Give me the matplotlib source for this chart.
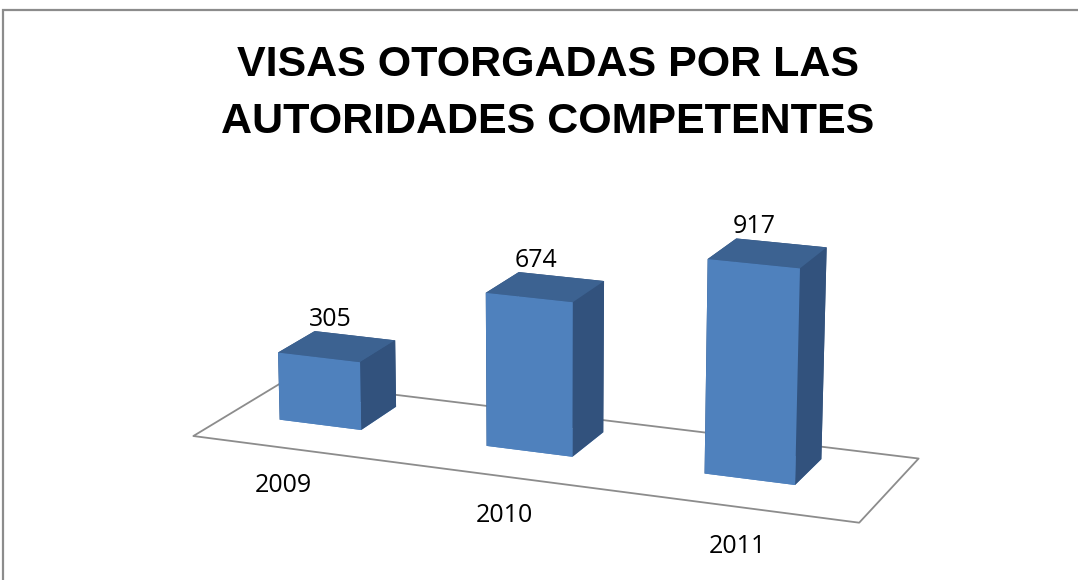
import numpy as np
import matplotlib.pyplot as plt
from matplotlib.patches import Rectangle
from mpl_toolkits.mplot3d.art3d import Poly3DCollection

# data
years = ['2009', '2010', '2011']
visas = [305, 674, 917]
title_lines = ['VISAS OTORGADAS POR LAS', 'AUTORIDADES COMPETENTES']

front_col = '#4f81bd'
side_col = '#32527d'
top_col = '#3c6291'

fig = plt.figure(figsize=(10.78, 5.8), dpi=100)

# chart frame (only top/left visible in the reference)
fig.patches.append(Rectangle((3 / 1078, -0.1), 1.2, 1.1 - 10 / 580,
                             transform=fig.transFigure, fill=False,
                             edgecolor='#8c8c8c', lw=1.6))

for line, yb in zip(title_lines, [0.869, 0.771]):
    fig.text(0.508, yb, line, ha='center', va='baseline', fontsize=31,
             fontweight='bold', family='Liberation Sans')

# big square 3d axes, perspective depends on zoom so keep zoom low
ax = fig.add_axes([-0.0065, -0.436, 1.0, 1.7], projection='3d', computed_zorder=False)
ax.set_proj_type('persp', focal_length=0.6)
ax.view_init(elev=16, azim=-68)
ax.set_xticks([])
ax.set_yticks([])
ax.set_zticks([])
ax.set_axis_off()
for axis in (ax.xaxis, ax.yaxis, ax.zaxis):
    axis.label.set_visible(False)
    axis.offsetText.set_visible(False)

n = len(visas)
dy = 0.52
xs = np.arange(n) + 0.3

# floor (plot area)
fx0, fx1, fy0, fy1 = 0.05, n + 0.08, -0.25, 1.0
floor = Poly3DCollection([[(fx0, fy0, 0), (fx1, fy0, 0), (fx1, fy1, 0), (fx0, fy1, 0)]],
                         facecolor='white', edgecolor='#8c8c8c', lw=1.3, zorder=1)
ax.add_collection3d(floor)
floor.set_clip_on(False)

# face order in bar3d: -z, +z, -y, +y, -x, +x
colors = []
for _ in visas:
    colors += [front_col, top_col, front_col, side_col, side_col, side_col]
bars = ax.bar3d(xs, np.full(n, (1 - dy) / 2), np.zeros(n), 0.4, dy, visas,
                color=colors, shade=False, zorder=2)
bars.set_clip_on(False)

for x, v, yr in zip(xs, visas, years):
    ax.text(x + 0.08, 0.5 + dy / 2, v + 5, str(v), ha='center', va='bottom',
            fontsize=18, family='Open Sans', zorder=3)
    ax.text(x + 0.42, -0.9, 0, yr, ha='center', va='center',
            fontsize=18, family='Open Sans', zorder=3)

ax.set_xlim(0, n)
ax.set_ylim(0, 1)
ax.set_zlim(0, 1000)
ax.set_box_aspect((740, 175, 252), zoom=0.74)

fig.savefig('out.png', dpi=100)
